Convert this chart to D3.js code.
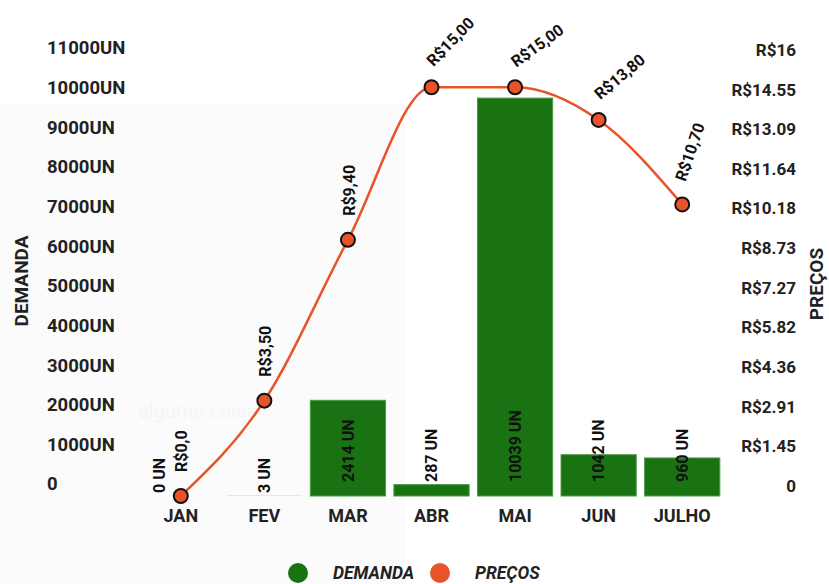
<!DOCTYPE html>
<html>
<head>
<meta charset="utf-8">
<script src="https://cdn.jsdelivr.net/npm/d3@7"></script>
<style>
  html, body { margin: 0; padding: 0; background: #ffffff; }
  svg { display: block; font-family: Roboto, "Noto Sans", sans-serif; }
</style>
</head>
<body>
<svg id="chart" width="829" height="584"></svg>
<script>
// Monthly demand (units) and price (R$)
const months = ["JAN", "FEV", "MAR", "ABR", "MAI", "JUN", "JULHO"];
const demand = [0, 3, 2414, 287, 10039, 1042, 960];
const prices = [0.0, 3.5, 9.4, 15.0, 15.0, 13.8, 10.7];
const priceLabels = ["R$0,0", "R$3,50", "R$9,40", "R$15,00", "R$15,00", "R$13,80", "R$10,70"];
const demandTicks = ["0", "1000UN", "2000UN", "3000UN", "4000UN", "5000UN", "6000UN",
  "7000UN", "8000UN", "9000UN", "10000UN", "11000UN"];
const priceTicks = ["0", "R$1.45", "R$2.91", "R$4.36", "R$5.82", "R$7.27", "R$8.73",
  "R$10.18", "R$11.64", "R$13.09", "R$14.55", "R$16"];
const legendItems = ["DEMANDA", "PREÇOS"];

// label rotation for the price annotations (degrees)
const priceLabelAngles = [-90, -90, -90, -46, -36, -40, -71];

const GREEN = "#197312";
const ORANGE = "#e8542a";
const INK = "#222222";

const svg = d3.select("#chart");

const baseY = 496, topY = 60;
const x = d3.scaleBand().domain(months).range([139, 724]).paddingInner(0.1).paddingOuter(0.05);
const yDemand = d3.scaleLinear().domain([0, 11000]).range([baseY, topY]);
const yPrice = d3.scaleLinear().domain([0, 16]).range([baseY, topY]);

// faint backdrop panel and watermark
svg.append("rect").attr("x", 0).attr("y", 103).attr("width", 405).attr("height", 481).attr("fill", "#fbfbfb");
svg.append("text").attr("x", 138).attr("y", 418).attr("fill", "#f5f5f5")
  .style("font-size", "20px").text("alguma coisa");

// left axis tick labels
const demandStep = 11000 / (demandTicks.length - 1);
svg.append("g").selectAll("text").data(demandTicks).join("text")
  .attr("x", 47)
  .attr("y", (d, i) => yDemand(i * demandStep) - 12)
  .attr("dy", "0.35em")
  .attr("fill", INK)
  .style("font-size", "18.5px").style("font-weight", 700)
  .text(d => d);

// right axis tick labels
const priceStep = 16 / (priceTicks.length - 1);
svg.append("g").selectAll("text").data(priceTicks).join("text")
  .attr("x", 796)
  .attr("y", (d, i) => yPrice(i * priceStep) - 10)
  .attr("dy", "0.35em")
  .attr("text-anchor", "end")
  .attr("fill", INK)
  .style("font-size", "17px").style("font-weight", 700)
  .text(d => d);

// axis titles
svg.append("text")
  .attr("transform", "translate(28,281) rotate(-90)")
  .attr("text-anchor", "middle")
  .attr("fill", INK)
  .style("font-size", "19px").style("font-weight", 700)
  .text("DEMANDA");
svg.append("text")
  .attr("transform", "translate(823,284) rotate(-90)")
  .attr("text-anchor", "middle")
  .attr("fill", INK)
  .style("font-size", "19px").style("font-weight", 700)
  .text("PREÇOS");

// x axis labels
svg.append("g").selectAll("text").data(months).join("text")
  .attr("x", d => x(d) + x.bandwidth() / 2)
  .attr("y", 516)
  .attr("dy", "0.35em")
  .attr("text-anchor", "middle")
  .attr("fill", INK)
  .style("font-size", "18px").style("font-weight", 700)
  .text(d => d);

// demand bars (outline only where the bar is tall enough to show it)
svg.append("g").selectAll("rect").data(months).join("rect")
  .attr("x", d => x(d))
  .attr("y", (d, i) => yDemand(demand[i]))
  .attr("width", x.bandwidth())
  .attr("height", (d, i) => baseY - yDemand(demand[i]))
  .attr("fill", GREEN)
  .attr("stroke", (d, i) => baseY - yDemand(demand[i]) > 2 ? "#4d9a45" : "none")
  .attr("stroke-width", 1);

// demand value labels (vertical)
svg.append("g").selectAll("text").data(months).join("text")
  .attr("transform", (d, i) => {
    let cx = x(d) + x.bandwidth() / 2;
    // move aside when the price annotation sits on the baseline
    if (baseY - yPrice(prices[i]) < 30) cx -= 21;
    const startY = demand[i] < 100 ? baseY - 3 : baseY - 14;
    return `translate(${cx},${startY}) rotate(-90)`;
  })
  .attr("dy", "0.35em")
  .attr("fill", "#111")
  .style("font-size", "16px").style("font-weight", 700)
  .text((d, i) => `${demand[i]} UN`);

// price line
const line = d3.line()
  .x((d, i) => x(months[i]) + x.bandwidth() / 2)
  .y(d => yPrice(d))
  .curve(d3.curveMonotoneX);
svg.append("path").datum(prices)
  .attr("d", line)
  .attr("fill", "none")
  .attr("stroke", ORANGE)
  .attr("stroke-width", 2.5);

svg.append("g").selectAll("circle").data(prices).join("circle")
  .attr("cx", (d, i) => x(months[i]) + x.bandwidth() / 2)
  .attr("cy", d => yPrice(d))
  .attr("r", 7)
  .attr("fill", ORANGE)
  .attr("stroke", "#111")
  .attr("stroke-width", 2);

// price annotations
svg.append("g").selectAll("text").data(prices).join("text")
  .attr("transform", (d, i) => {
    const cx = x(months[i]) + x.bandwidth() / 2;
    const a = priceLabelAngles[i];
    const dx = a === -90 ? 1 : -2;
    return `translate(${cx + dx},${yPrice(d) - 24}) rotate(${a})`;
  })
  .attr("dy", "0.35em")
  .attr("fill", "#111")
  .style("font-size", "16px").style("font-weight", 700)
  .text((d, i) => priceLabels[i]);

// legend
const legendColors = [GREEN, ORANGE];
const legendX = [298, 440];
const lg = svg.append("g").selectAll("g").data(legendItems).join("g")
  .attr("transform", (d, i) => `translate(${legendX[i]},573)`);
lg.append("circle").attr("r", 10).attr("fill", (d, i) => legendColors[i]);
lg.append("text")
  .attr("x", 35)
  .attr("dy", "0.35em")
  .attr("fill", INK)
  .style("font-size", "17.5px").style("font-weight", 700).style("font-style", "italic")
  .text(d => d);
</script>
</body>
</html>
